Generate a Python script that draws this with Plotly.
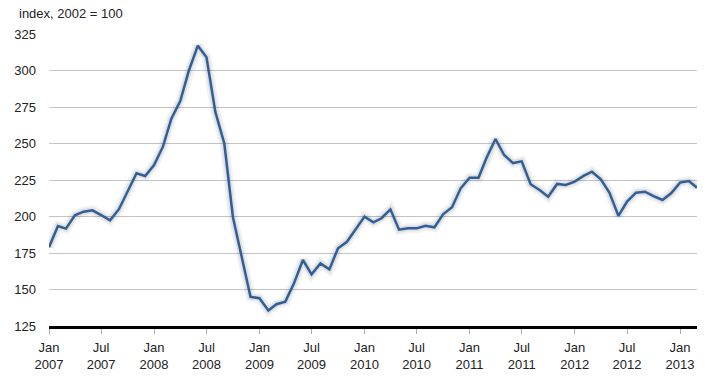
import pandas as pd
import plotly.graph_objects as go

start_month = "2007-01-01"
values = [179, 193.5, 191.7, 200.8, 203.3, 204.2, 201, 197.4, 205, 216.8,
          229.6, 227.7, 235.3, 248, 267, 279, 300, 317, 309, 271.5,
          250, 199.5, 172.5, 145, 144, 135.7, 139.9, 141.7, 154.2, 170.2,
          160.4, 167.9, 163.8, 178.2, 182.7, 191.2, 199.9, 196, 198.8, 204.9,
          191, 191.9, 191.9, 193.7, 192.6, 201.5, 206.3, 219.3, 226.6, 226.6,
          240.3, 253.1, 242.1, 236.6, 237.8, 222.1, 218.2, 213.6, 222.3, 221.6,
          223.9, 227.8, 230.7, 225.5, 216.3, 200.4, 210.2, 216.3, 217, 214,
          211.3, 215.9, 223.2, 224.3, 219.7]
months = pd.date_range(start_month, periods=len(values), freq="MS")

tick_dates = ["2007-01-01", "2007-07-01", "2008-01-01", "2008-07-01", "2009-01-01",
              "2009-07-01", "2010-01-01", "2010-07-01", "2011-01-01", "2011-07-01",
              "2012-01-01", "2012-07-01", "2013-01-01"]
tick_text = ["Jan<br>2007", "Jul<br>2007", "Jan<br>2008", "Jul<br>2008", "Jan<br>2009",
             "Jul<br>2009", "Jan<br>2010", "Jul<br>2010", "Jan<br>2011", "Jul<br>2011",
             "Jan<br>2012", "Jul<br>2012", "Jan<br>2013"]
y_ticks = [125, 150, 175, 200, 225, 250, 275, 300, 325]
y_title = "index, 2002 = 100"

font = dict(family="Liberation Sans, Arial, Helvetica, sans-serif", size=13, color="#222222")

fig = go.Figure()
# soft drop shadow
fig.add_trace(go.Scatter(x=months, y=values, mode="lines",
                         line=dict(color="rgba(0,0,0,0.05)", width=10),
                         hoverinfo="skip", showlegend=False))
fig.add_trace(go.Scatter(x=months, y=values, mode="lines",
                         line=dict(color="rgba(0,0,0,0.07)", width=6),
                         hoverinfo="skip", showlegend=False))
fig.add_trace(go.Scatter(x=months, y=values, mode="lines",
                         line=dict(color="#2f5f98", width=2.5),
                         showlegend=False))

fig.update_layout(
    width=720, height=386,
    margin=dict(l=49, r=23, t=34, b=60),
    paper_bgcolor="white", plot_bgcolor="white",
    font=font,
    xaxis=dict(type="date", range=[months[0], months[-1]],
               tickvals=tick_dates, ticktext=tick_text, tickangle=0,
               showgrid=False, zeroline=False,
               showline=True, linecolor="black", linewidth=2.5,
               ticks="outside", ticklen=5, tickcolor="#aaaaaa", tickwidth=1,
               ticklabelstandoff=3,
               tickfont=font),
    yaxis=dict(range=[125, 325], tickvals=y_ticks, showgrid=True,
               gridcolor="#c4c4c4", gridwidth=1, zeroline=False,
               showline=False, ticks="", ticklabelstandoff=12,
               tickfont=font),
    annotations=[dict(text=y_title, x=0, xref="paper", xanchor="left",
                      xshift=-32, y=1, yref="paper", yanchor="bottom", yshift=11,
                      showarrow=False, font=font)],
)

fig.write_html("out.html", config={"displayModeBar": False},
               post_script="document.body.style.margin='0';document.body.style.padding='0';")
